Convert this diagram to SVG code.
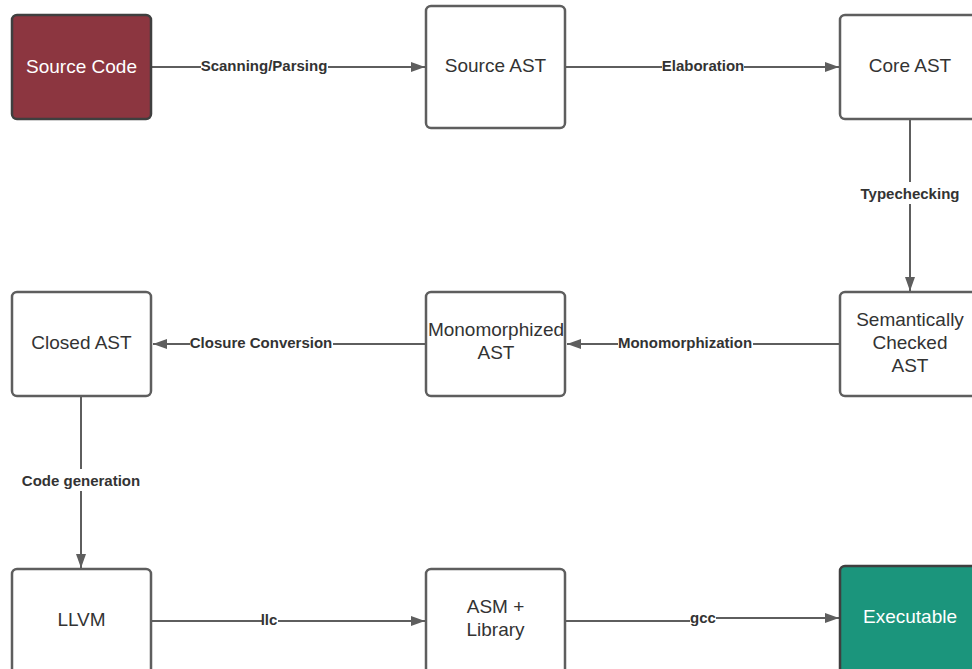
<svg xmlns="http://www.w3.org/2000/svg" width="972" height="669" viewBox="0 0 972 669">
<defs>
<style>
.box{fill:#fff;stroke:#5e5e5e;stroke-width:2.5}
.nt{font-family:"Liberation Sans",Arial,sans-serif;font-size:19px;fill:#333;text-anchor:middle}
.ln{stroke:#5e5e5e;stroke-width:2;fill:none}
.lb{font-family:"Liberation Sans",Arial,sans-serif;font-size:15px;font-weight:bold;fill:#333;text-anchor:middle}
.bg{fill:#fff}
</style>
<marker id="ah" viewBox="0 0 14 10" refX="14" refY="5" markerWidth="14" markerHeight="10" markerUnits="userSpaceOnUse" orient="auto">
<path d="M0,0 L14,5 L0,10 z" fill="#5e5e5e"/>
</marker>
</defs>
<rect width="972" height="669" fill="#fff"/>
<g id="connectors">
<line class="ln" x1="152" y1="67" x2="425" y2="67" marker-end="url(#ah)"/>
<rect class="bg" x="201" y="57" width="127" height="18"/>
<text class="lb" x="264" y="70.5">Scanning/Parsing</text>
<line class="ln" x1="566" y1="67" x2="839" y2="67" marker-end="url(#ah)"/>
<rect class="bg" x="662" y="57" width="82" height="18"/>
<text class="lb" x="703" y="70.5">Elaboration</text>
<line class="ln" x1="910" y1="120" x2="910" y2="291" marker-end="url(#ah)"/>
<rect class="bg" x="858" y="182" width="105" height="22"/>
<text class="lb" x="910" y="198.5">Typechecking</text>
<line class="ln" x1="840" y1="344" x2="567" y2="344" marker-end="url(#ah)"/>
<rect class="bg" x="618" y="334" width="135" height="18"/>
<text class="lb" x="685" y="347.5">Monomorphization</text>
<line class="ln" x1="426" y1="344" x2="153" y2="344" marker-end="url(#ah)"/>
<rect class="bg" x="190" y="334" width="143" height="18"/>
<text class="lb" x="261" y="347.5">Closure Conversion</text>
<line class="ln" x1="81" y1="397" x2="81" y2="568" marker-end="url(#ah)"/>
<rect class="bg" x="20" y="469" width="124" height="22"/>
<text class="lb" x="81" y="485.5">Code generation</text>
<line class="ln" x1="152" y1="621" x2="425" y2="621" marker-end="url(#ah)"/>
<rect class="bg" x="262" y="612" width="16" height="18"/>
<text class="lb" x="269" y="624.5">llc</text>
<path class="ln" d="M566,621 L690,621 L703,618 L839,618" marker-end="url(#ah)"/>
<rect class="bg" x="690" y="609" width="26" height="18"/>
<text class="lb" x="703" y="622.5">gcc</text>
</g>
<g id="source-code">
<rect x="12" y="15" width="139" height="104" rx="5" fill="#8c3640" stroke="#3f3f3f" stroke-width="2.5"/>
<text class="nt" x="81.5" y="73" style="fill:#fff">Source Code</text>
</g>
<g id="source-ast">
<rect class="box" x="426" y="6" width="139" height="122" rx="5"/>
<text class="nt" x="495.5" y="72">Source AST</text>
</g>
<g id="core-ast">
<rect class="box" x="840" y="15" width="140" height="104" rx="5"/>
<text class="nt" x="910" y="72">Core AST</text>
</g>
<g id="semantically-checked-ast">
<rect class="box" x="840" y="292" width="140" height="104" rx="5"/>
<text class="nt" x="910" y="326">Semantically</text>
<text class="nt" x="910" y="349">Checked</text>
<text class="nt" x="910" y="372">AST</text>
</g>
<g id="monomorphized-ast">
<rect class="box" x="426" y="292" width="139" height="104" rx="5"/>
<text class="nt" x="496" y="336">Monomorphized</text>
<text class="nt" x="496" y="359">AST</text>
</g>
<g id="closed-ast">
<rect class="box" x="12" y="292" width="139" height="104" rx="5"/>
<text class="nt" x="81.5" y="349">Closed AST</text>
</g>
<g id="llvm">
<rect class="box" x="12" y="569" width="139" height="110" rx="5"/>
<text class="nt" x="81.5" y="626">LLVM</text>
</g>
<g id="asm-library">
<rect class="box" x="426" y="569" width="139" height="110" rx="5"/>
<text class="nt" x="495.5" y="613">ASM +</text>
<text class="nt" x="495.5" y="636">Library</text>
</g>
<g id="executable">
<rect x="840" y="566" width="140" height="113" rx="5" fill="#1b957c" stroke="#3f3f3f" stroke-width="2.5"/>
<text class="nt" x="910" y="623" style="fill:#fff">Executable</text>
</g>
</svg>
